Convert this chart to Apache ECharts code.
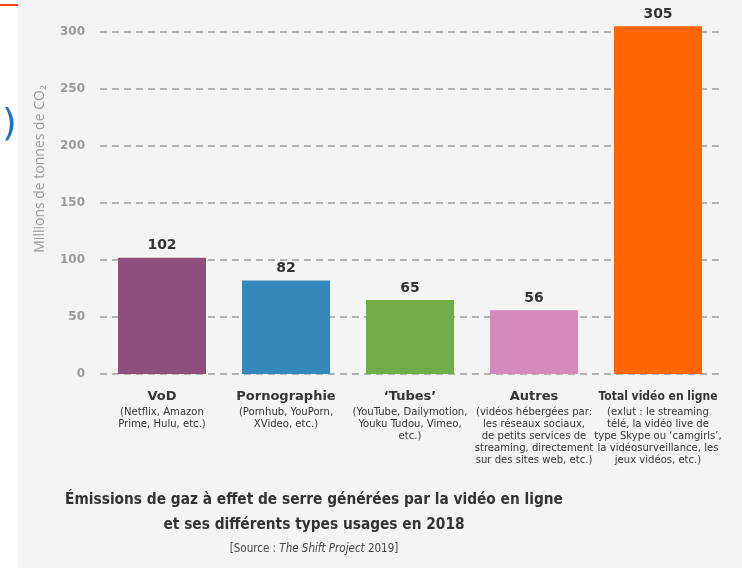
<!DOCTYPE html>
<html><head><meta charset="utf-8">
<script src="https://cdn.jsdelivr.net/npm/echarts@6/dist/echarts.min.js"></script>
<style>html,body{margin:0;padding:0;background:#fff}#c{width:742px;height:568px}</style>
</head><body><div id="c"></div>
<script>
const categories = ['VoD', 'Pornographie', '\u2018Tubes\u2019', 'Autres', 'Total vidéo en ligne'];
const descriptions = [
  '(Netflix, Amazon\nPrime, Hulu, etc.)',
  '(Pornhub, YouPorn,\nXVideo, etc.)',
  '(YouTube, Dailymotion,\nYouku Tudou, Vimeo,\netc.)',
  '(vidéos hébergées par:\nles réseaux sociaux,\nde petits services de\nstreaming, directement\nsur des sites web, etc.)',
  '(exlut : le streaming\ntélé, la vidéo live de\ntype Skype ou \u2018camgirls\u2019,\nla vidéosurveillance, les\njeux vidéos, etc.)'
];
const values = [102, 82, 65, 56, 305];
const barColors = ['#8e4f7e', '#3489ba', '#70ad48', '#d489bd', '#ff6600'];
const yTicks = [0, 50, 100, 150, 200, 250, 300];

const chart = echarts.init(document.getElementById('c'));
chart.setOption({
  backgroundColor: '#ffffff',
  animation: false,
  graphic: [
    { type: 'rect', left: 18, top: 0, shape: { width: 724, height: 568 }, style: { fill: '#f4f4f4' }, z: -10 },
    { type: 'rect', left: 0, top: 4, shape: { width: 18, height: 2 }, style: { fill: '#ff3d1f' } },
    { type: 'text', left: 2, top: 106, style: { text: ')', fontSize: 38, fontFamily: 'DejaVu Sans', fill: '#1a73c4' } },
    { type: 'text', x: 40, y: 169, rotation: Math.PI / 2,
      style: { text: 'Millions de tonnes de CO\u2082', fontSize: 14, fontFamily: 'Open Sans', fill: '#9a9a9a', align: 'center', verticalAlign: 'middle' } }
  ],
  title: {
    text: 'Émissions de gaz à effet de serre générées par la vidéo en ligne\net ses différents types usages en 2018',
    subtext: '{a|[Source : }{i|The Shift Project}{a| 2019]}',
    left: 314, top: 488, textAlign: 'center', itemGap: 5, padding: 0,
    textStyle: { fontFamily: 'DejaVu Sans Condensed', fontWeight: 'bold', fontSize: 15.3, lineHeight: 25, color: '#333333' },
    subtextStyle: {
      rich: {
        a: { fontFamily: 'DejaVu Sans Condensed', fontSize: 11.5, color: '#444444' },
        i: { fontFamily: 'DejaVu Sans Condensed', fontSize: 11.5, fontStyle: 'italic', color: '#444444' }
      }
    }
  },
  grid: { left: 100, right: 22, top: 32, bottom: 194, containLabel: false },
  xAxis: {
    type: 'category',
    data: categories,
    axisLine: { show: false },
    axisTick: { show: false },
    axisLabel: {
      interval: 0, margin: 14,
      formatter: function (v, i) {
        const head = i === categories.length - 1 ? '{m|' + v + '}' : '{n|' + v + '}';
        return head + '\n{s|' + descriptions[i] + '}';
      },
      rich: {
        n: { fontFamily: 'DejaVu Sans', fontWeight: 'bold', fontSize: 13, color: '#333333', lineHeight: 18 },
        m: { fontFamily: 'DejaVu Sans Condensed', fontWeight: 'bold', fontSize: 12, color: '#333333', lineHeight: 18 },
        s: { fontFamily: 'DejaVu Sans Condensed', fontSize: 11.2, color: '#333333', lineHeight: 12 }
      }
    }
  },
  yAxis: {
    type: 'value', min: 0, max: 300, interval: 50,
    axisLine: { show: false }, axisTick: { show: false },
    axisLabel: {
      margin: 15, fontFamily: 'DejaVu Sans', fontWeight: 'bold', fontSize: 12, color: '#9a9a9a',
      formatter: function (v) { return yTicks.indexOf(v) >= 0 ? String(v) : ''; }
    },
    splitLine: { show: true, lineStyle: { color: '#b2b2b2', width: 2, type: [7, 5] } }
  },
  series: [{
    type: 'bar',
    data: values.map((v, i) => ({ value: v, itemStyle: { color: barColors[i] } })),
    barWidth: 88,
    clip: false,
    label: { show: true, position: 'top', distance: 5, fontFamily: 'DejaVu Sans', fontWeight: 'bold', fontSize: 14, color: '#333333' }
  }]
});
</script></body></html>
